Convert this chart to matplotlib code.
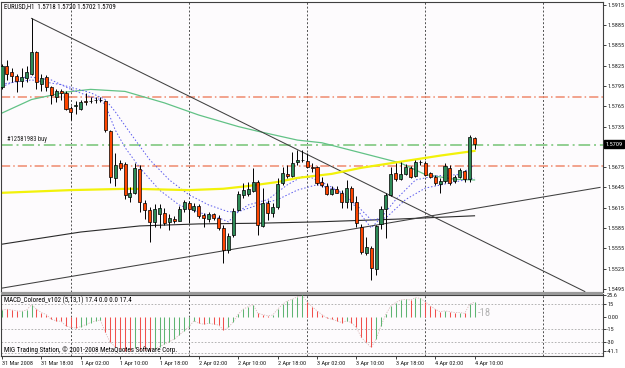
import matplotlib
matplotlib.use("Agg")
import matplotlib.pyplot as plt
import matplotlib.transforms as mtransforms
from matplotlib.patches import Rectangle
from matplotlib.font_manager import FontProperties, fontManager
import numpy as np

_installed = {f.name for f in fontManager.ttflist}
FAMILY = 'Liberation Sans'
for cand in ['Liberation Sans Narrow', 'DejaVu Sans Condensed', 'Roboto Condensed',
             'Open Sans Condensed', 'Noto Sans Condensed', 'Liberation Sans']:
    if cand in _installed:
        FAMILY = cand
        break
plt.rcParams['font.family'] = [FAMILY, 'DejaVu Sans']

# ---------------- data (EURUSD H1, bars from 31 Mar 2008 10:00) ----------------
opens = [1.5794, 1.5824, 1.5815, 1.5810, 1.5803, 1.5807, 1.5813, 1.5846, 1.5798, 1.5809,
         1.5793, 1.5779, 1.5787, 1.5785, 1.5763, 1.5765, 1.5761, 1.5773, 1.5773, 1.5774,
         1.5775, 1.5773, 1.5729, 1.5659, 1.5681, 1.5680, 1.5631, 1.5637, 1.5672, 1.5622,
         1.5612, 1.5594, 1.5606, 1.5607, 1.5594, 1.5598, 1.5596, 1.5613, 1.5622, 1.5612,
         1.5618, 1.5604, 1.5598, 1.5605, 1.5600, 1.5585, 1.5553, 1.5574, 1.5612, 1.5634,
         1.5635, 1.5640, 1.5653, 1.5588, 1.5622, 1.5607, 1.5616, 1.5652, 1.5665, 1.5662,
         1.5682, 1.5686, 1.5684, 1.5675, 1.5675, 1.5653, 1.5647, 1.5635, 1.5643, 1.5637,
         1.5624, 1.5644, 1.5624, 1.5587, 1.5548, 1.5555, 1.5525, 1.5591, 1.5613, 1.5634,
         1.5666, 1.5657, 1.5665, 1.5673, 1.5662, 1.5683, 1.5681, 1.5666, 1.5660, 1.5650,
         1.5654, 1.5674, 1.5654, 1.5660, 1.5669, 1.5658, 1.5718]
highs = [1.5827, 1.5833, 1.5822, 1.5813, 1.5821, 1.5825, 1.5895, 1.5847, 1.5813, 1.5812,
         1.5795, 1.5791, 1.5791, 1.5788, 1.5766, 1.5773, 1.5775, 1.5784, 1.5778, 1.5779,
         1.5779, 1.5775, 1.5730, 1.5696, 1.5686, 1.5683, 1.5646, 1.5681, 1.5678, 1.5627,
         1.5616, 1.5621, 1.5621, 1.5615, 1.5606, 1.5603, 1.5618, 1.5627, 1.5625, 1.5622,
         1.5621, 1.5607, 1.5609, 1.5607, 1.5604, 1.5590, 1.5578, 1.5615, 1.5640, 1.5652,
         1.5653, 1.5674, 1.5656, 1.5644, 1.5627, 1.5622, 1.5659, 1.5675, 1.5678, 1.5698,
         1.5701, 1.5701, 1.5696, 1.5681, 1.5677, 1.5661, 1.5652, 1.5647, 1.5647, 1.5641,
         1.5656, 1.5647, 1.5632, 1.5591, 1.5572, 1.5558, 1.5590, 1.5618, 1.5637, 1.5675,
         1.5681, 1.5683, 1.5680, 1.5677, 1.5686, 1.5686, 1.5684, 1.5668, 1.5664, 1.5659,
         1.5681, 1.5678, 1.5664, 1.5674, 1.5671, 1.5723, 1.5720]
lows = [1.5791, 1.5804, 1.5801, 1.5786, 1.5794, 1.5801, 1.5812, 1.5791, 1.5788, 1.5787,
        1.5769, 1.5772, 1.5775, 1.5760, 1.5745, 1.5753, 1.5760, 1.5767, 1.5770, 1.5770,
        1.5772, 1.5727, 1.5652, 1.5647, 1.5670, 1.5628, 1.5624, 1.5635, 1.5609, 1.5598,
        1.5564, 1.5587, 1.5585, 1.5590, 1.5582, 1.5592, 1.5595, 1.5609, 1.5592, 1.5609,
        1.5600, 1.5587, 1.5594, 1.5597, 1.5582, 1.5533, 1.5548, 1.5572, 1.5610, 1.5629,
        1.5632, 1.5638, 1.5575, 1.5587, 1.5597, 1.5601, 1.5613, 1.5649, 1.5659, 1.5661,
        1.5678, 1.5682, 1.5674, 1.5668, 1.5649, 1.5646, 1.5634, 1.5634, 1.5636, 1.5615,
        1.5615, 1.5612, 1.5587, 1.5547, 1.5545, 1.5508, 1.5515, 1.5584, 1.5570, 1.5632,
        1.5655, 1.5656, 1.5664, 1.5659, 1.5661, 1.5678, 1.5662, 1.5659, 1.5649, 1.5637,
        1.5652, 1.5649, 1.5652, 1.5659, 1.5653, 1.5653, 1.5702]
closes = [1.5824, 1.5813, 1.5810, 1.5802, 1.5809, 1.5815, 1.5846, 1.5801, 1.5807, 1.5794,
          1.5781, 1.5787, 1.5785, 1.5761, 1.5757, 1.5767, 1.5772, 1.5772, 1.5773, 1.5775,
          1.5775, 1.5730, 1.5661, 1.5678, 1.5674, 1.5634, 1.5637, 1.5674, 1.5624, 1.5611,
          1.5594, 1.5613, 1.5615, 1.5592, 1.5600, 1.5595, 1.5613, 1.5624, 1.5613, 1.5618,
          1.5602, 1.5600, 1.5606, 1.5600, 1.5585, 1.5552, 1.5573, 1.5610, 1.5635, 1.5641,
          1.5643, 1.5653, 1.5590, 1.5622, 1.5607, 1.5616, 1.5650, 1.5667, 1.5662, 1.5681,
          1.5686, 1.5685, 1.5675, 1.5673, 1.5652, 1.5649, 1.5635, 1.5643, 1.5637, 1.5624,
          1.5644, 1.5624, 1.5592, 1.5550, 1.5557, 1.5526, 1.5588, 1.5613, 1.5634, 1.5665,
          1.5658, 1.5665, 1.5675, 1.5661, 1.5683, 1.5682, 1.5664, 1.5661, 1.5651, 1.5655,
          1.5676, 1.5651, 1.5660, 1.5670, 1.5657, 1.5719, 1.5709]

# moving averages (bar index, price) knots
yellow_ma_idx = [0, 14, 26, 38, 45, 50, 56, 60, 67, 73, 81, 89, 96]
yellow_ma_val = [1.5637, 1.5641, 1.5643, 1.5641, 1.5643, 1.5647, 1.5653, 1.5659, 1.5665,
                 1.5674, 1.5683, 1.5692, 1.5699]
green_ma_idx = [0, 6, 13, 18, 25, 33, 40, 48, 52, 60, 65, 73, 81, 86, 92, 96]
green_ma_val = [1.5755, 1.5775, 1.5786, 1.5790, 1.5787, 1.5770, 1.5752, 1.5735, 1.5728,
                1.5715, 1.5711, 1.5696, 1.5681, 1.5664, 1.5657, 1.5656]
blue_fast_idx = [0, 5, 10, 14, 18, 20, 21, 23, 25, 28, 32, 36, 40, 44, 46, 48, 50, 54, 58,
                 61, 63, 66, 70, 73, 75, 77, 80, 84, 88, 93, 96]
blue_fast_val = [1.5794, 1.5809, 1.5804, 1.5790, 1.5779, 1.5775, 1.5767, 1.5730, 1.5704,
                 1.5674, 1.5641, 1.5619, 1.5608, 1.5600, 1.5594, 1.5609, 1.5619, 1.5627,
                 1.5649, 1.5661, 1.5659, 1.5649, 1.5634, 1.5604, 1.5585, 1.5600, 1.5627,
                 1.5656, 1.5662, 1.5664, 1.5678]
blue_slow_idx = [0, 6, 12, 18, 21, 23, 26, 30, 34, 38, 42, 46, 48, 52, 56, 60, 64, 68, 72,
                 75, 78, 82, 86, 92, 96]
blue_slow_val = [1.5798, 1.5804, 1.5797, 1.5785, 1.5775, 1.5757, 1.5726, 1.5686, 1.5656,
                 1.5634, 1.5619, 1.5609, 1.5609, 1.5619, 1.5627, 1.5641, 1.5649, 1.5641,
                 1.5619, 1.5597, 1.5600, 1.5627, 1.5644, 1.5653, 1.5659]
long_ma_idx = [0, 8, 16, 24, 28, 40, 52, 64, 80, 96]
long_ma_val = [1.5561, 1.5570, 1.5579, 1.5585, 1.5588, 1.5591, 1.5592, 1.5594, 1.5598, 1.5603]

# trend lines: (bar index, price) anchor pairs
trend_down = [(6, 1.5895), (118.4, 1.5491)]
trend_up = [(0, 1.5496), (121.5, 1.5645)]

# horizontal levels
red_levels = [1.5778, 1.5676]
order_level = 1.5708
order_label = "#12581983 buy"
last_price = 1.5709

price_ticks = [1.5915, 1.5885, 1.5855, 1.5825, 1.5795, 1.5765, 1.5735,
               1.5675, 1.5645, 1.5615, 1.5585, 1.5555, 1.5525, 1.5495]

# MACD histogram (5,13,1)
macd = [8, 9, 8, 7, 6.5, 8, 14.5, 9, 5, 2.5,
        -3, -5, -5.5, -11, -13, -13.5, -12, -9.6, -7, -5,
        -4, -19, -31, -36, -39, -41.1, -41, -38, -40, -40.5,
        -41, -39, -36, -33, -30, -27, -22, -17, -12, -5,
        -8, -9, -8, -9, -10, -16, -13, -6, 3, 9,
        12, 14.5, 4, 2.5, 1, 2, 9, 15, 19, 21,
        24, 25.6, 18, 12, 7, 2.5, -1.5, -3, -5, -7,
        -5, -7, -13, -25, -31, -37, -27, -11, 3, 13,
        17, 20, 21, 20, 23, 22, 18, 13, 9, 6,
        7, 6, 5, 5, 4, 15, 17.4]
macd_up = [1, 0, 0, 0, 1, 1, 1, 0, 0, 0,
           0, 0, 0, 0, 0, 0, 1, 1, 1, 1,
           1, 0, 0, 0, 0, 0, 0, 1, 0, 0,
           0, 1, 1, 1, 1, 1, 1, 1, 1, 1,
           0, 0, 1, 0, 0, 0, 1, 1, 1, 1,
           1, 1, 0, 0, 0, 1, 1, 1, 1, 1,
           1, 1, 0, 0, 0, 0, 0, 0, 0, 0,
           1, 0, 0, 0, 0, 0, 1, 1, 1, 1,
           1, 1, 1, 0, 1, 1, 0, 0, 0, 0,
           1, 0, 0, 1, 0, 1, 1]
macd_ticks = [25.6, 15, 0, -15, -30, -41.1]
macd_ticklabels = ["25.6", "15", "0.00", "-15", "-30", "-41.1"]
macd_levels = [15, -15, -30, -44]

time_labels = ["31 Mar 2008", "31 Mar 18:00", "1 Apr 02:00", "1 Apr 10:00", "1 Apr 18:00",
               "2 Apr 02:00", "2 Apr 10:00", "2 Apr 18:00", "3 Apr 02:00", "3 Apr 10:00",
               "3 Apr 18:00", "4 Apr 02:00", "4 Apr 10:00"]
first_bar_hour = 10

header_text = "EURUSD,H1  1.5718 1.5720 1.5702 1.5709"
macd_header = "MACD_Colored_v102 (5,13,1) 17.4 0.0 0.0 17.4"
footer_text = "MIG Trading Station, \u00a9 2001-2008 MetaQuotes Software Corp."

# ---------------- figure ----------------
W, H = 625, 368
fig = plt.figure(figsize=(W / 100, H / 100), dpi=100, facecolor='white')
renderer = fig.canvas.get_renderer()

def fit(s, px):
    fp = FontProperties(family=[FAMILY], size=10)
    w, _, _ = renderer.get_text_width_height_descent(s, fp, ismath=False)
    return 10.0 * px / w

fs_header = fit(header_text, 112)
fs_price = fit("1.5915", 17.0)
fs_time = min(fit("1 Apr 10:00", 28.5), fit("31 Mar 2008", 31))
fs_order = fit(order_label, 40)
fs_macdh = fit(macd_header, 125)
fs_footer = fit(footer_text, 172)
fs_18 = fit("-18", 13)

def fr(x0, y0, x1, y1):
    return [x0 / W, 1 - y1 / H, (x1 - x0) / W, (y1 - y0) / H]

ax = fig.add_axes(fr(1.5, 1.5, 603, 291.5))
axm = fig.add_axes(fr(1.5, 294.5, 603, 356))
bg = '#fdfbfd'
for a in (ax, axm):
    a.set_facecolor(bg)
    for s in a.spines.values():
        s.set_color('#404040')
        s.set_linewidth(0.8)

fig.patches.append(Rectangle((1.5 / W, 1 - 294.5 / H), 601.5 / W, 3 / H,
                             transform=fig.transFigure, facecolor='#9a9a9a',
                             edgecolor='none', zorder=0))

n = len(opens)
idx = np.arange(n)
o = np.array(opens); h = np.array(highs); l = np.array(lows); c = np.array(closes)
xlim = (-0.1, 122.1)
ax.set_xlim(*xlim)
axm.set_xlim(*xlim)
ax.set_ylim(1.5491, 1.5920)
axm.set_ylim(-47.3, 26.7)

# day separators
day_lines = np.arange(24 - first_bar_hour, 123, 24)
for d in day_lines:
    for a in (ax, axm):
        a.axvline(d, color='#505050', lw=0.7, ls=(0, (2, 2)), zorder=1)

# horizontal levels
for lv in red_levels:
    ax.axhline(lv, color='#ef8a6e', lw=1.1, ls=(0, (6, 2, 1, 2)), zorder=1.5)
ax.axhline(order_level, color='#92cf92', lw=1.4, ls=(0, (6, 2, 1, 2)), zorder=1.5)
ax.text(1.0, order_level + 0.0002, order_label, fontsize=fs_order, va='bottom', ha='left',
        color='#202020', zorder=5)

# indicator lines
ax.plot(long_ma_idx, long_ma_val, color='#2a2a2a', lw=0.8, zorder=2)
ax.plot(green_ma_idx, green_ma_val, color='#62c286', lw=0.9, zorder=2)
ax.plot(blue_slow_idx, blue_slow_val, color='#5a5aee', lw=0.7, ls=(0, (1.5, 2)), zorder=2)
ax.plot(blue_fast_idx, blue_fast_val, color='#5a5aee', lw=0.7, ls=(0, (1.5, 2)), zorder=2)
ax.plot(yellow_ma_idx, yellow_ma_val, color='#f2f20a', lw=1.6, zorder=2.5)

# trend lines
for (x0, y0), (x1, y1) in (trend_down, trend_up):
    ax.plot([x0, x1], [y0, y1], color='#404040', lw=0.75, zorder=2.2)

# candles
ax.vlines(idx, l, h, color='black', lw=0.7, zorder=3)
body_lo = np.minimum(o, c)
body_h = np.abs(c - o)
cols = np.where(c > o, '#2e8b57', np.where(c < o, '#ff4500', 'black'))
ax.bar(idx, body_h, bottom=body_lo, width=0.62, color=cols, edgecolor='black',
       linewidth=0.5, zorder=4)

ax.text(0.004, 0.993, header_text, transform=ax.transAxes,
        fontsize=fs_header, va='top', ha='left', color='black')

# price axis
ax.yaxis.tick_right()
ax.set_yticks(price_ticks)
ax.set_yticklabels([f"{p:.4f}" for p in price_ticks])
ax.tick_params(axis='y', length=2, width=0.6, pad=1.0, labelsize=fs_price, colors='#202020')
ax.tick_params(axis='x', bottom=False, labelbottom=False)
trans = mtransforms.blended_transform_factory(ax.transAxes, ax.transData)
ax.text(1.0045, last_price, f"{last_price:.4f}", transform=trans, fontsize=fs_price,
        color='white', va='center', ha='left', clip_on=False, zorder=6,
        bbox=dict(facecolor='black', edgecolor='black', boxstyle='square,pad=0.2'))

# MACD panel
mcols = ['#5fb472' if u else '#f0504c' for u in macd_up]
for lv in macd_levels:
    axm.axhline(lv, color='#a8a8a8', lw=0.6, ls=(0, (2, 2)), zorder=1)
axm.vlines(idx, 0, macd, colors=mcols, lw=0.75, zorder=3)
axm.plot(idx, macd, color='#d9b8b8', lw=0.6, ls=(0, (1.5, 1.5)), zorder=2)
axm.text(96.6, 4, "-18", fontsize=fs_18, color='#b4b4b4', va='center', ha='left')
axm.text(0.004, 0.965, macd_header, transform=axm.transAxes,
         fontsize=fs_macdh, va='top', ha='left', color='black')
axm.text(0.004, 0.03, footer_text,
         transform=axm.transAxes, fontsize=fs_footer, va='bottom', ha='left', color='black')
axm.yaxis.tick_right()
axm.set_yticks(macd_ticks)
axm.set_yticklabels(macd_ticklabels)
axm.tick_params(axis='y', length=2, width=0.6, pad=1.0, labelsize=fs_price, colors='#202020')
axm.set_xticks(np.arange(0, n, 8))
axm.set_xticklabels(time_labels)
axm.tick_params(axis='x', length=2, width=0.6, pad=1.5, labelsize=fs_time, colors='#202020')
for lab in axm.get_xticklabels():
    lab.set_horizontalalignment('left')

fig.savefig("out.png", dpi=100, facecolor='white')
